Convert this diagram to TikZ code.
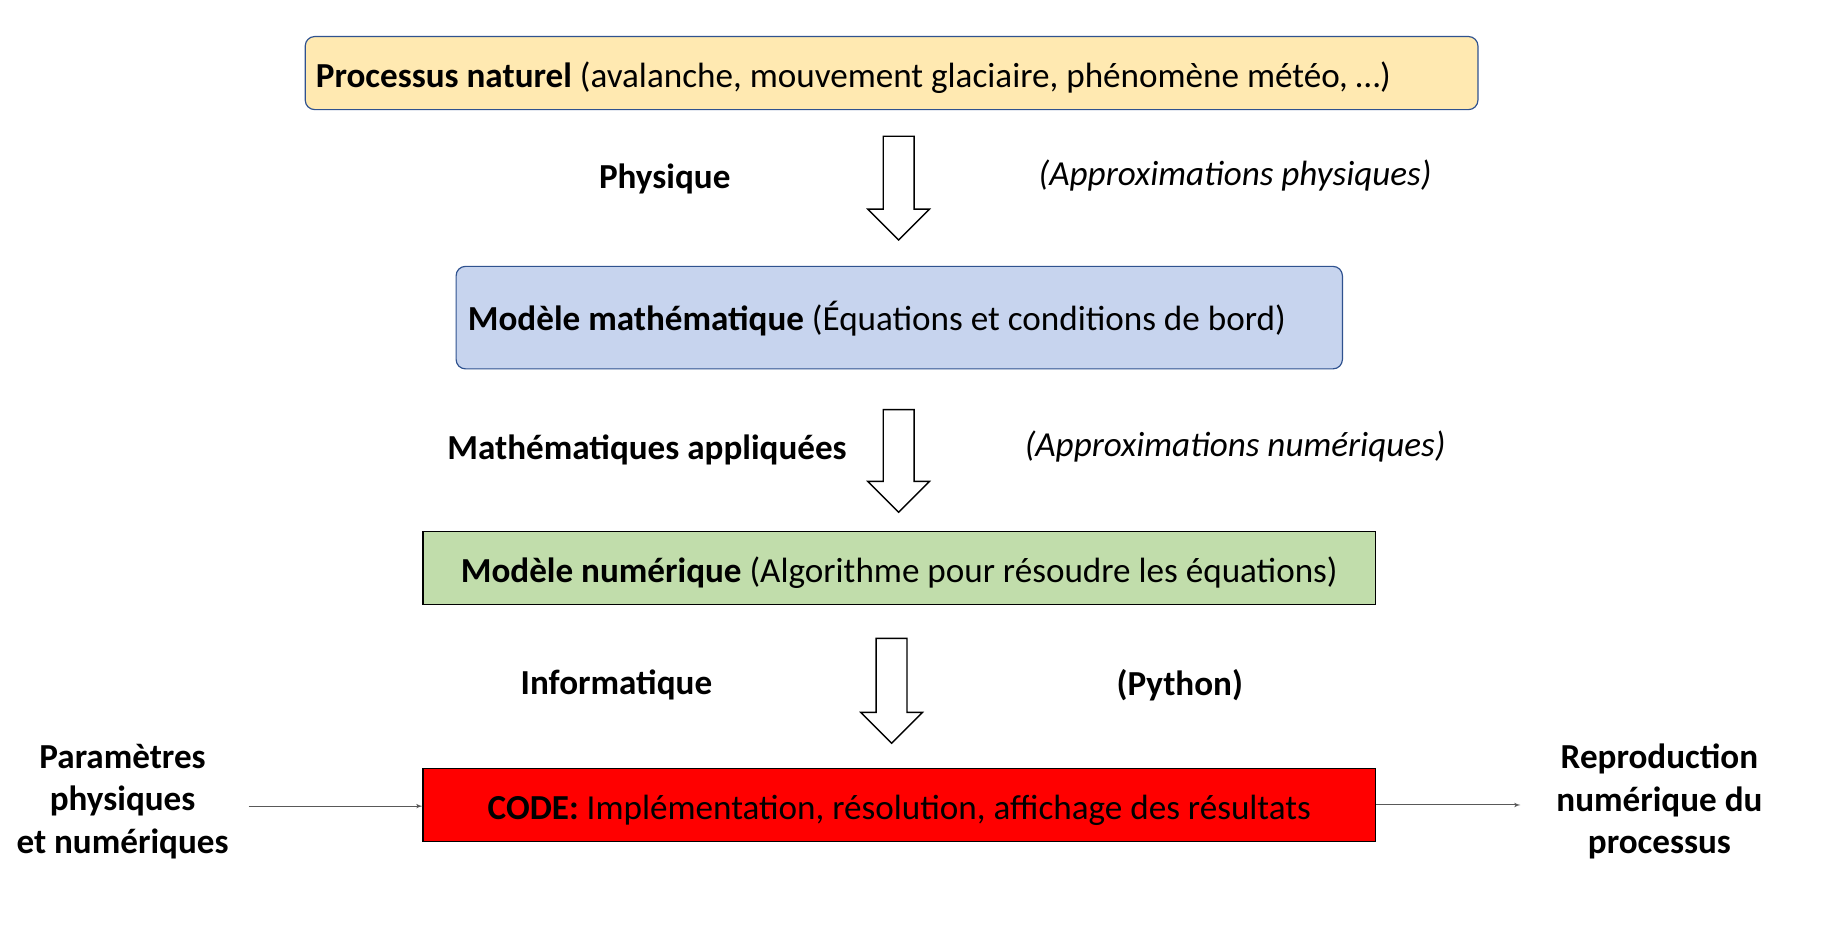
\documentclass[tikz,border=0pt]{standalone}
\usepackage{fontspec}
\setmainfont{Carlito}
\usepackage{tikz}
\usetikzlibrary{shapes,arrows,positioning,calc}
\definecolor{natfill}{HTML}{FFE9B1}
\definecolor{mathfill}{HTML}{C7D4EE}
\definecolor{numfill}{HTML}{C1DDAB}
\definecolor{boxline}{HTML}{2F528F}
\definecolor{thinline}{HTML}{595959}
\tikzset{
block/.style = {draw=boxline, line width=1pt, rectangle, rounded corners=8pt, minimum height=62pt, inner ysep=0pt, align=flush left, text height=28pt, text depth=4pt},
sqblock/.style = {draw=black, line width=1.2pt, rectangle, minimum width=808pt, minimum height=62pt, inner sep=0pt, text height=28pt, text depth=4pt},
bigarrow/.style = {draw, line width=1.2pt, fill=white, single arrow, shape border rotate=270, single arrow head extend=13pt, inner xsep=12.5pt, inner ysep=0pt, anchor=tail},
lbl/.style = {font=\bfseries},
remark/.style = {font=\itshape},
input/.style = {coordinate},
output/.style= {coordinate},
thinarrow/.style = {->, draw=thinline, line width=0.8pt}
}
\begin{document}
\fontsize{29.8}{36}\selectfont
\begin{tikzpicture}[x=1pt, y=-1pt, >=latex']
  \useasboundingbox (0,0) rectangle (1568,799);
  \node [block, fill=natfill, text width=977pt, inner xsep=9pt]   (natural)   at (756.5,62)  {\textbf{Processus naturel} (avalanche, mouvement glaciaire, phénomène météo, …)};
  \node [block, fill=mathfill, text width=732pt, inner xsep=10pt, minimum height=87pt, text height=26pt] (mathmodel) at (763,269.5) {\textbf{Modèle mathématique} (Équations et conditions de bord)};
  \node [sqblock, fill=numfill]                                    (nummodel)  at (763,482)   {\textbf{Modèle numérique} (Algorithme pour résoudre les équations)};
  \node [sqblock, fill=red]                                        (code)      at (763,683)   {\textbf{CODE:} Implémentation, résolution, affichage des résultats};

  \node [bigarrow, minimum height=88pt]   (arrA)  at (762.5,115) {};
  \node [bigarrow, minimum height=87pt]   (arrB)  at (762.5,347) {};
  \node [bigarrow, minimum height=89pt]   (arrC)  at (756.5,541) {};

  \node [lbl]     (phys)      at (564,152)  {Physique};
  \node [remark]  (approxphy) at (1048,149) {(Approximations physiques)};
  \node [lbl]     (mathapp)   at (549,382)  {Mathématiques appliquées};
  \node [remark]  (approxnum) at (1048,379) {(Approximations numériques)};
  \node [lbl]     (info)      at (523,581)  {Informatique};
  \node [lbl]     (python)    at (1001,581) {(Python)};

  \node [lbl, align=center] (params) at (104,680)  {Paramètres\\physiques\\et numériques};
  \node [lbl, align=center] (repro)  at (1408,680) {Reproduction\\numérique du\\processus};
  \node [input]  (pin)  at (211,684)  {};
  \node [output] (pout) at (1290,683) {};

  \draw [thinarrow] (pin) -- (pin -| code.west);
  \draw [thinarrow] (code.east) -- (pout);
\end{tikzpicture}
\end{document}
